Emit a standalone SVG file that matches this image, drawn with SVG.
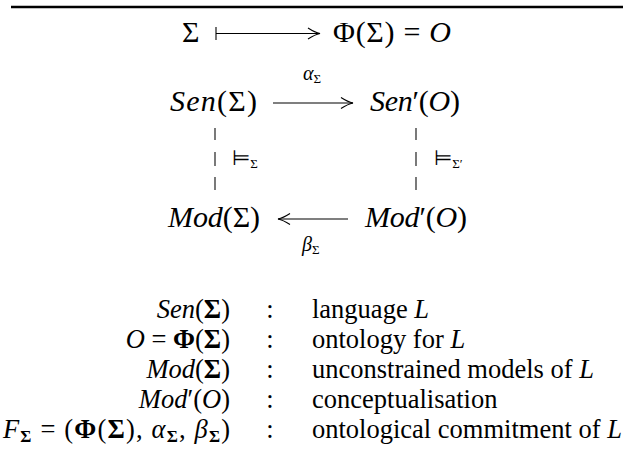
<svg xmlns="http://www.w3.org/2000/svg" width="623" height="453" viewBox="0 0 623 453">
<style>
  text { font-family: "Liberation Serif", "Times New Roman", serif; fill: #000; }
  .m { font-size: 30px; }
  .lab { font-size: 20px; }
  .sub { font-size: 13px; }
  .t { font-size: 26.5px; }
  .i { font-style: italic; }
  .b { font-weight: bold; }
  .ent { font-family: "DejaVu Sans", sans-serif; font-size: 21px; }
  .arr { stroke: #000; stroke-width: 1.1; fill: none; }
  .dash { stroke: #333; stroke-width: 1.3; fill: none; }
</style>
<defs>
  <marker id="head" viewBox="-13 -7 15 14" markerWidth="15" markerHeight="14" refX="0" refY="0" orient="auto" markerUnits="userSpaceOnUse" overflow="visible">
    <path d="M -12 -5.5 Q -5 -1 0 0 Q -5 1 -12 5.5" fill="none" stroke="#000" stroke-width="1.1"/>
  </marker>
</defs>
<line x1="11" y1="7" x2="623" y2="7" stroke="#000" stroke-width="2.5"/>

<g id="n-sigma"><text class="m" x="182" y="42">Σ</text></g>
<g id="n-phi"><text class="m" x="333" y="42" textLength="118" lengthAdjust="spacing">Φ(Σ) = <tspan class="i">O</tspan></text></g>
<g id="n-sen"><text class="m" x="170" y="111" textLength="87" lengthAdjust="spacing"><tspan class="i">Sen</tspan>(Σ)</text></g>
<g id="n-senp"><text class="m" x="370" y="111" textLength="90" lengthAdjust="spacing"><tspan class="i">Sen</tspan>′(<tspan class="i">O</tspan>)</text></g>
<g id="n-mod"><text class="m" x="168" y="227" textLength="92" lengthAdjust="spacing"><tspan class="i">Mod</tspan>(Σ)</text></g>
<g id="n-modp"><text class="m" x="365" y="227" textLength="102" lengthAdjust="spacing"><tspan class="i">Mod</tspan>′(<tspan class="i">O</tspan>)</text></g>

<g id="connectors">
  <line x1="216" y1="27" x2="216" y2="40" class="arr"/>
  <line x1="216" y1="33.5" x2="320" y2="33.5" class="arr" marker-end="url(#head)"/>
  <line x1="273" y1="103" x2="353" y2="103" class="arr" marker-end="url(#head)"/>
  <text x="303" y="80"><tspan class="lab i">α</tspan><tspan class="sub" dy="3">Σ</tspan></text>
  <path class="dash" d="M215 128 V140 M215 152 V166 M215 177 V190"/>
  <path class="dash" d="M416 128 V140 M416 152 V166 M416 177 V190"/>
  <text x="232" y="165"><tspan class="ent">⊨</tspan><tspan class="sub" dy="3">Σ</tspan></text>
  <text x="434" y="165"><tspan class="ent">⊨</tspan><tspan class="sub" dy="3">Σ′</tspan></text>
  <line x1="348" y1="219" x2="278" y2="219" class="arr" marker-end="url(#head)"/>
  <text x="302" y="251"><tspan class="lab i">β</tspan><tspan class="sub" dy="3">Σ</tspan></text>
</g>

<g id="legend">
  <text class="t" x="230" y="318" text-anchor="end"><tspan class="i">Sen</tspan>(<tspan class="b">Σ</tspan>)</text>
  <text class="t" x="230" y="348" text-anchor="end"><tspan class="i">O</tspan> = <tspan class="b">Φ</tspan>(<tspan class="b">Σ</tspan>)</text>
  <text class="t" x="230" y="378" text-anchor="end"><tspan class="i">Mod</tspan>(<tspan class="b">Σ</tspan>)</text>
  <text class="t" x="230" y="408" text-anchor="end"><tspan class="i">Mod</tspan>′(<tspan class="i">O</tspan>)</text>
  <text class="t" x="3" y="438" textLength="227" lengthAdjust="spacing"><tspan class="i">F</tspan><tspan class="b" font-size="17" dy="4">Σ</tspan><tspan dy="-4"> = (</tspan><tspan class="b">Φ</tspan>(<tspan class="b">Σ</tspan>), <tspan class="i">α</tspan><tspan class="b" font-size="17" dy="4">Σ</tspan><tspan dy="-4">, </tspan><tspan class="i">β</tspan><tspan class="b" font-size="17" dy="4">Σ</tspan><tspan dy="-4">)</tspan></text>
  <text class="t" x="270" y="318" text-anchor="middle">:</text>
  <text class="t" x="270" y="348" text-anchor="middle">:</text>
  <text class="t" x="270" y="378" text-anchor="middle">:</text>
  <text class="t" x="270" y="408" text-anchor="middle">:</text>
  <text class="t" x="270" y="438" text-anchor="middle">:</text>
  <text class="t" x="312" y="318">language <tspan class="i">L</tspan></text>
  <text class="t" x="312" y="348">ontology for <tspan class="i">L</tspan></text>
  <text class="t" x="312" y="378">unconstrained models of <tspan class="i">L</tspan></text>
  <text class="t" x="312" y="408">conceptualisation</text>
  <text class="t" x="312" y="438">ontological commitment of <tspan class="i">L</tspan></text>
</g>
</svg>
